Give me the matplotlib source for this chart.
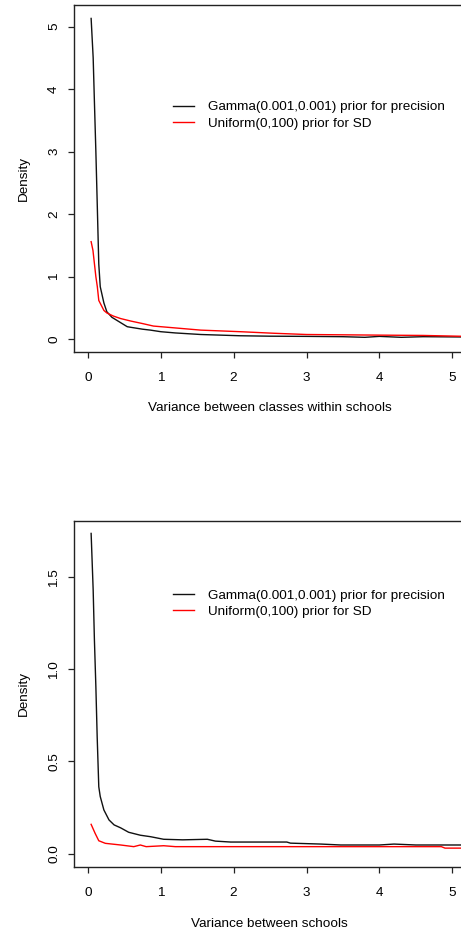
import matplotlib
matplotlib.use("Agg")
import matplotlib.pyplot as plt

plt.rcParams['font.family'] = ['Liberation Sans', 'DejaVu Sans']

# ---- data ----
labels = ["Gamma(0.001,0.001) prior for precision", "Uniform(0,100) prior for SD"]

top_gamma_x = [0.045, 0.073, 0.09, 0.11, 0.128, 0.15, 0.17, 0.22, 0.26, 0.33, 0.40, 0.54, 0.59,
               0.75, 0.86, 1.0, 1.2, 1.55, 2.09, 2.5, 3.0, 3.5, 3.8, 4.0, 4.3, 4.6, 5.2]
top_gamma_y = [5.13, 4.5, 3.8, 3.0, 2.2, 1.2, 0.84, 0.58, 0.44, 0.35, 0.30, 0.20, 0.19,
               0.16, 0.145, 0.12, 0.10, 0.075, 0.055, 0.048, 0.045, 0.04, 0.03, 0.045, 0.03, 0.04, 0.035]
top_unif_x = [0.045, 0.07, 0.09, 0.11, 0.13, 0.15, 0.22, 0.26, 0.35, 0.45, 0.59, 0.75, 0.9,
              1.2, 1.55, 2.09, 2.55, 3.0, 3.5, 4.0, 4.6, 5.2]
top_unif_y = [1.56, 1.42, 1.21, 1.0, 0.84, 0.62, 0.46, 0.42, 0.37, 0.33, 0.29, 0.25, 0.21,
              0.18, 0.145, 0.12, 0.095, 0.075, 0.07, 0.065, 0.06, 0.045]

bot_gamma_x = [0.045, 0.073, 0.09, 0.11, 0.128, 0.15, 0.17, 0.22, 0.29, 0.36, 0.45, 0.56, 0.72,
               0.86, 1.04, 1.3, 1.64, 1.75, 1.96, 2.4, 2.73, 2.78, 3.2, 3.47, 4.0, 4.2, 4.5, 5.2]
bot_gamma_y = [1.737, 1.43, 1.16, 0.906, 0.634, 0.363, 0.31, 0.237, 0.183, 0.156, 0.14, 0.116, 0.10,
               0.092, 0.078, 0.075, 0.078, 0.068, 0.063, 0.063, 0.063, 0.057, 0.052, 0.047, 0.047,
               0.052, 0.047, 0.047]
bot_unif_x = [0.045, 0.1, 0.15, 0.24, 0.45, 0.63, 0.72, 0.8, 1.04, 1.2, 2.0, 3.0, 4.0, 4.85, 4.9, 5.2]
bot_unif_y = [0.159, 0.11, 0.07, 0.056, 0.047, 0.038, 0.047, 0.038, 0.043, 0.038, 0.038, 0.038,
              0.038, 0.038, 0.03, 0.03]

x_ticks = [0, 1, 2, 3, 4, 5]
top_yticks = [0, 1, 2, 3, 4, 5]
bot_yticks = [0.0, 0.5, 1.0, 1.5]
xlabels = ["Variance between classes within schools", "Variance between schools"]

W, H = 461, 930
fig = plt.figure(figsize=(W / 100, H / 100), dpi=100)

FS = 9.7

def make_panel(rect, gx, gy, ux, uy, yticks, ylim, xlabel, fmt, leg_y):
    ax = fig.add_axes(rect)
    ax.plot(gx, gy, color='#111111', lw=1.0, label=labels[0])
    ax.plot(ux, uy, color='#ff0000', lw=1.0, label=labels[1])
    ax.set_xlim(-0.19, 5.18)
    ax.set_ylim(*ylim)
    ax.set_xticks(x_ticks)
    ax.set_xticklabels([str(t) for t in x_ticks])
    ax.set_yticks(yticks)
    ax.set_yticklabels([fmt.format(t) for t in yticks])
    ax.tick_params(axis='both', direction='out', length=4.5, width=0.9, labelsize=FS, color='#222222')
    ax.tick_params(axis='x', pad=10)
    ax.tick_params(axis='y', pad=5.5, labelrotation=90)
    for lab in ax.get_yticklabels():
        lab.set_va('center')
    for s in ax.spines.values():
        s.set_linewidth(1.0)
        s.set_color('#222222')
    ax.set_xlabel(xlabel, fontsize=FS)
    ax.set_ylabel("Density", fontsize=FS)
    ax.xaxis.label.set_va('center')
    ax.yaxis.label.set_va('center')
    ax.xaxis.set_label_coords(0.5, -0.1625)
    ax.yaxis.set_label_coords(-0.128, 0.5)
    ax.legend(loc='upper left', bbox_to_anchor=(0.252, leg_y), frameon=False,
              fontsize=FS, handlelength=1.6, handletextpad=1.0,
              labelspacing=0.28, borderpad=0, borderaxespad=0)
    return ax

axw = (465.4 - 74) / W
make_panel([74 / W, (H - 351.7) / H, axw, 346.4 / H],
           top_gamma_x, top_gamma_y, top_unif_x, top_unif_y,
           top_yticks, (-0.2, 5.34), xlabels[0], "{:d}", 0.724)
make_panel([74 / W, (H - 867.3) / H, axw, 346.6 / H],
           bot_gamma_x, bot_gamma_y, bot_unif_x, bot_unif_y,
           bot_yticks, (-0.074, 1.806), xlabels[1], "{:.1f}", 0.802)

fig.savefig("out.png", dpi=100)
